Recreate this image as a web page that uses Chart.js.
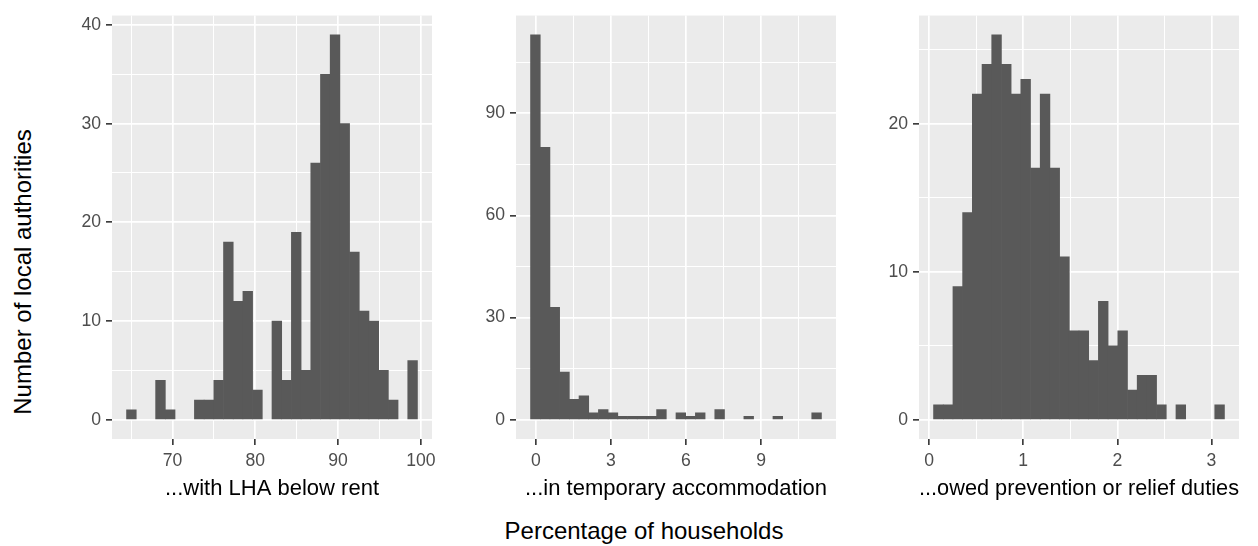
<!DOCTYPE html>
<html>
<head>
<meta charset="utf-8">
<script src="https://cdn.jsdelivr.net/npm/chart.js@4"></script>
<style>
  body { margin: 0; background: #fff; width: 1258px; height: 546px; position: relative; overflow: hidden;
         font-family: "Liberation Sans", Arial, sans-serif; }
  .panel { position: absolute; top: 0; width: 402px; height: 502px; }
  .title { position: absolute; font-size: 24px; line-height: 24px; color: #000; white-space: nowrap; }
  #ytitle { left: 23px; top: 272px; transform: translate(-50%, -50%) rotate(-90deg); }
  #xtitle { left: 644px; top: 519px; transform: translateX(-50%); }
</style>
</head>
<body>
<div class="panel" style="left:40px"><canvas id="p1" width="402" height="502"></canvas></div>
<div class="panel" style="left:444px"><canvas id="p2" width="402" height="502"></canvas></div>
<div class="panel" style="left:847px"><canvas id="p3" width="402" height="502"></canvas></div>
<div class="title" id="ytitle">Number of local authorities</div>
<div class="title" id="xtitle">Percentage of households</div>
<script>
// histogram counts, 30 bins each
const lhaCounts = [1, 0, 0, 4, 1, 0, 0, 2, 2, 4, 18, 12, 13, 3, 0, 10, 4, 19, 5, 26, 35, 39, 30, 17, 11, 10, 5, 2, 0, 6];
const taCounts = [113, 80, 33, 14, 6, 7, 2, 3, 2, 1, 1, 1, 1, 3, 0, 2, 1, 2, 0, 3, 0, 0, 1, 0, 0, 1, 0, 0, 0, 2];
const dutyCounts = [1, 1, 9, 14, 22, 24, 26, 24, 22, 23, 17, 22, 17, 11, 6, 6, 4, 8, 5, 6, 2, 3, 3, 1, 0, 1, 0, 0, 0, 1];

// bin start and width (percent)
const lhaBins = [64.46, 1.171];
const taBins = [-0.212, 0.3875];
const dutyBins = [0.0466, 0.10305];

// ticks
const lhaXTicks = [70, 80, 90, 100];
const lhaXMinor = [65, 75, 85, 95];
const lhaYTicks = [0, 10, 20, 30, 40];
const lhaYMinor = [5, 15, 25, 35];
const taXTicks = [0, 3, 6, 9];
const taXMinor = [1.5, 4.5, 7.5, 10.5];
const taYTicks = [0, 30, 60, 90];
const taYMinor = [15, 45, 75, 105];
const dutyXTicks = [0, 1, 2, 3];
const dutyXMinor = [0.5, 1.5, 2.5];
const dutyYTicks = [0, 10, 20];
const dutyYMinor = [5, 15, 25];

const panelTitles = ['...with LHA below rent', '...in temporary accommodation', '...owed prevention or relief duties'];

Chart.defaults.font.family = '"Liberation Sans", Arial, sans-serif';

const panelBg = {
  id: 'panelBg',
  beforeDraw(chart) {
    const { ctx, chartArea: a } = chart;
    ctx.save();
    ctx.fillStyle = '#EBEBEB';
    ctx.fillRect(a.left, a.top, a.right - a.left, a.bottom - a.top);
    ctx.restore();
  }
};

function axis(major, minor, min, max, extra) {
  const isMajor = ctx => ctx.tick && major.includes(ctx.tick.value);
  return Object.assign({
    type: 'linear',
    min: min,
    max: max,
    offset: false,
    afterBuildTicks: scale => {
      scale.ticks = major.concat(minor).sort((a, b) => a - b).map(v => ({ value: v }));
    },
    ticks: {
      autoSkip: false,
      maxRotation: 0,
      color: '#4D4D4D',
      font: { size: 17.6 },
      callback: v => major.includes(v) ? String(v) : ''
    },
    grid: {
      offset: false,
      color: '#FFFFFF',
      lineWidth: ctx => isMajor(ctx) ? 1.7 : 1,
      tickLength: 6,
      tickColor: ctx => isMajor(ctx) ? '#333333' : 'rgba(0,0,0,0)',
      tickWidth: 1.6
    },
    border: { display: false }
  }, extra);
}

function makePanel(id, counts, bins, xMajor, xMinor, yMajor, yMinor, title) {
  const [start, width] = bins;
  const end = start + counts.length * width;
  const padX = 0.05 * (end - start);
  const top = Math.max(...counts);
  // empty bins get no bar at all
  const data = counts.map((c, i) => ({ x: start + (i + 0.5) * width, y: c === 0 ? null : c }));

  const x = axis(xMajor, xMinor, start - padX, end + padX, {
    afterFit: s => { s.height = 63; },
    title: { display: true, text: title, color: '#000', font: { size: 22 }, padding: { top: 0, bottom: 0 } }
  });
  x.ticks.padding = 6;
  const y = axis(yMajor, yMinor, -0.05 * top, top * 1.05, {
    afterFit: s => { s.width = 72; }
  });
  y.ticks.padding = 5;

  new Chart(document.getElementById(id), {
    type: 'bar',
    data: {
      datasets: [{
        data: data,
        backgroundColor: '#595959',
        borderWidth: 0,
        barPercentage: 1,
        categoryPercentage: 1
      }]
    },
    options: {
      responsive: false,
      animation: false,
      events: [],
      layout: { padding: { top: 12, right: 10, left: 0, bottom: 0 } },
      scales: { x: x, y: y },
      plugins: { legend: { display: false }, tooltip: { enabled: false } }
    },
    plugins: [panelBg]
  });
}

makePanel('p1', lhaCounts, lhaBins, lhaXTicks, lhaXMinor, lhaYTicks, lhaYMinor, panelTitles[0]);
makePanel('p2', taCounts, taBins, taXTicks, taXMinor, taYTicks, taYMinor, panelTitles[1]);
makePanel('p3', dutyCounts, dutyBins, dutyXTicks, dutyXMinor, dutyYTicks, dutyYMinor, panelTitles[2]);
</script>
</body>
</html>
